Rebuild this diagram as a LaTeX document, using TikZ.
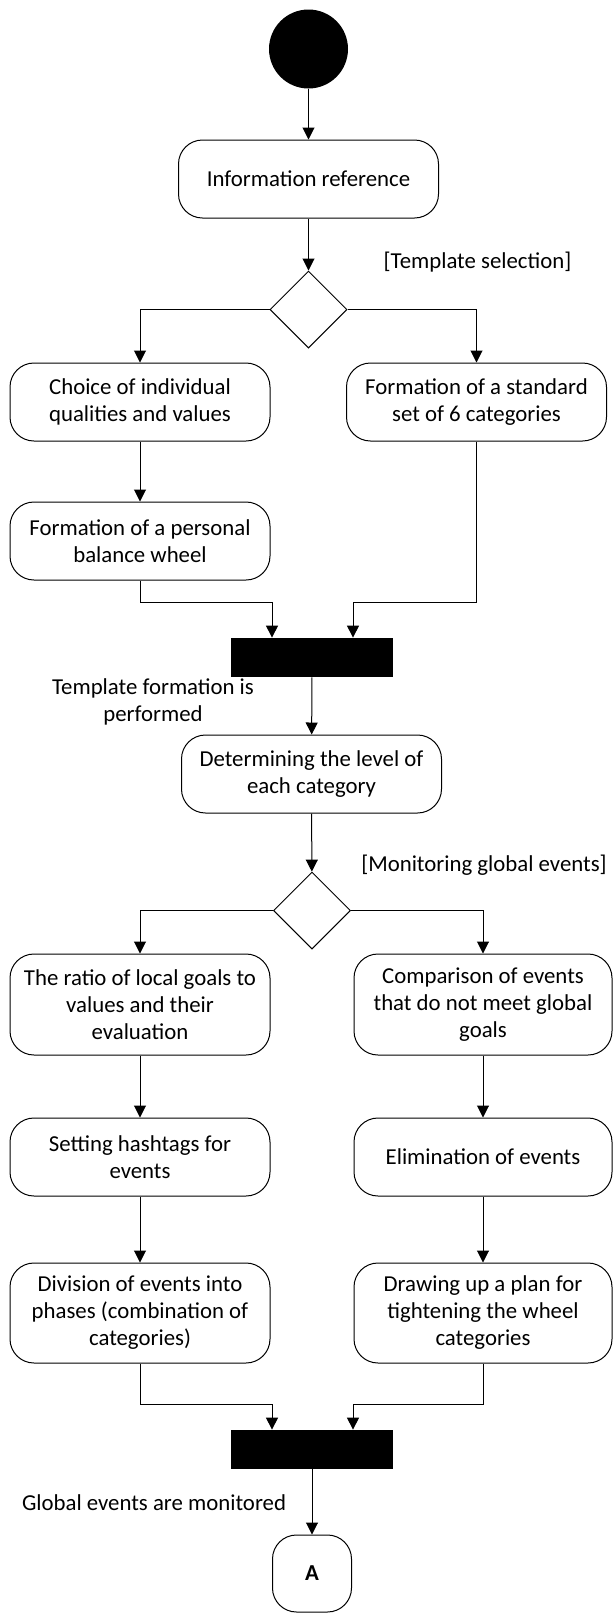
\documentclass[tikz,border=0pt]{standalone}
\usepackage{fontspec}
\setmainfont{Carlito}
\usetikzlibrary{positioning,calc,arrows.meta,shapes.geometric}
\tikzset{
	act/.style={shape=rectangle, rounded corners=12pt, draw, line width=0.5pt, minimum width=130pt, minimum height=39pt, align=center, inner sep=2pt, font=\fontsize{11.4}{13.5}\selectfont},
	decide/.style={shape=diamond, draw, line width=0.5pt, minimum width=38.5pt, minimum height=38.5pt, inner sep=0pt},
	syncbar/.style={shape=rectangle, fill=black, minimum width=81pt, minimum height=19.5pt, inner sep=0pt},
	guard/.style={align=center, inner sep=0pt, font=\fontsize{11.4}{13.5}\selectfont},
	flow/.style={line width=0.5pt, -{Triangle[length=6pt, width=6pt]}},
}
\begin{document}
\begin{tikzpicture}[x=0.5pt, y=-0.5pt]
	\useasboundingbox (0,0) rectangle (613,1613);
	\node[shape=circle, fill=black, minimum size=39.5pt, inner sep=0pt] (start) at (308.5, 49) {};
	\node[act] (info) at (308.5, 179) {Information reference};
	\node[decide] (dec1) at (308.5, 309.5) {};
	\node[guard] (sel) at (477.5, 262) {[Template selection]};
	\node[act] (choice) at (140, 402) {Choice of individual\\qualities and values};
	\node[act] (std) at (476.5, 402) {Formation of a standard\\set of 6 categories};
	\node[act] (wheel) at (140, 541) {Formation of a personal\\balance wheel};
	\node[syncbar] (bar1) at (312, 657.5) {};
	\node[guard] (formed) at (153, 702) {Template formation is\\performed};
	\node[act] (level) at (311.5, 774) {Determining the level of\\each category};
	\node[decide] (dec2) at (312, 910.5) {};
	\node[guard] (mon) at (484, 865) {[Monitoring global events]};
	\node[act, minimum height=50.5pt] (ratio) at (140, 1004.5) {The ratio of local goals to\\values and their\\evaluation};
	\node[act, minimum height=50.5pt, minimum width=129pt] (compare) at (483, 1004.5) {Comparison of events\\that do not meet global\\goals};
	\node[act] (hash) at (140, 1157) {Setting hashtags for\\events};
	\node[act, minimum width=129pt] (elim) at (483, 1157) {Elimination of events};
	\node[act, minimum height=50pt] (phases) at (140, 1313) {Division of events into\\phases (combination of\\categories)};
	\node[act, minimum height=50pt, minimum width=129pt] (plan) at (483, 1313) {Drawing up a plan for\\tightening the wheel\\categories};
	\node[syncbar] (bar2) at (312, 1449.5) {};
	\node[guard] (done) at (154, 1503) {Global events are monitored};
	\node[act, minimum width=39.5pt, minimum height=38.5pt, font=\fontsize{11.4}{13.5}\selectfont\bfseries] (endA) at (312, 1573.5) {A};

	\draw[flow] (start) -- (info);
	\draw[flow] (info) -- (dec1);
	\draw[flow] (dec1.west) -| (choice.north);
	\draw[flow] (dec1.east) -| (std.north);
	\draw[flow] (choice) -- (wheel);
	\draw[flow] (wheel.south) |- ([xshift=-20pt, yshift=17.5pt]bar1.north) -- ([xshift=-20pt]bar1.north);
	\draw[flow] (std.south) |- ([xshift=20.5pt, yshift=17.5pt]bar1.north) -- ([xshift=20.5pt]bar1.north);
	\draw[flow] (bar1) -- (level);
	\draw[flow] (level) -- (dec2);
	\draw[flow] (dec2.west) -| (ratio.north);
	\draw[flow] (dec2.east) -| (compare.north);
	\draw[flow] (ratio) -- (hash);
	\draw[flow] (hash) -- (phases);
	\draw[flow] (compare) -- (elim);
	\draw[flow] (elim) -- (plan);
	\draw[flow] (phases.south) |- ([xshift=-20pt, yshift=12.5pt]bar2.north) -- ([xshift=-20pt]bar2.north);
	\draw[flow] (plan.south) |- ([xshift=20.5pt, yshift=12.5pt]bar2.north) -- ([xshift=20.5pt]bar2.north);
	\draw[flow] (bar2) -- (endA);
\end{tikzpicture}
\end{document}
